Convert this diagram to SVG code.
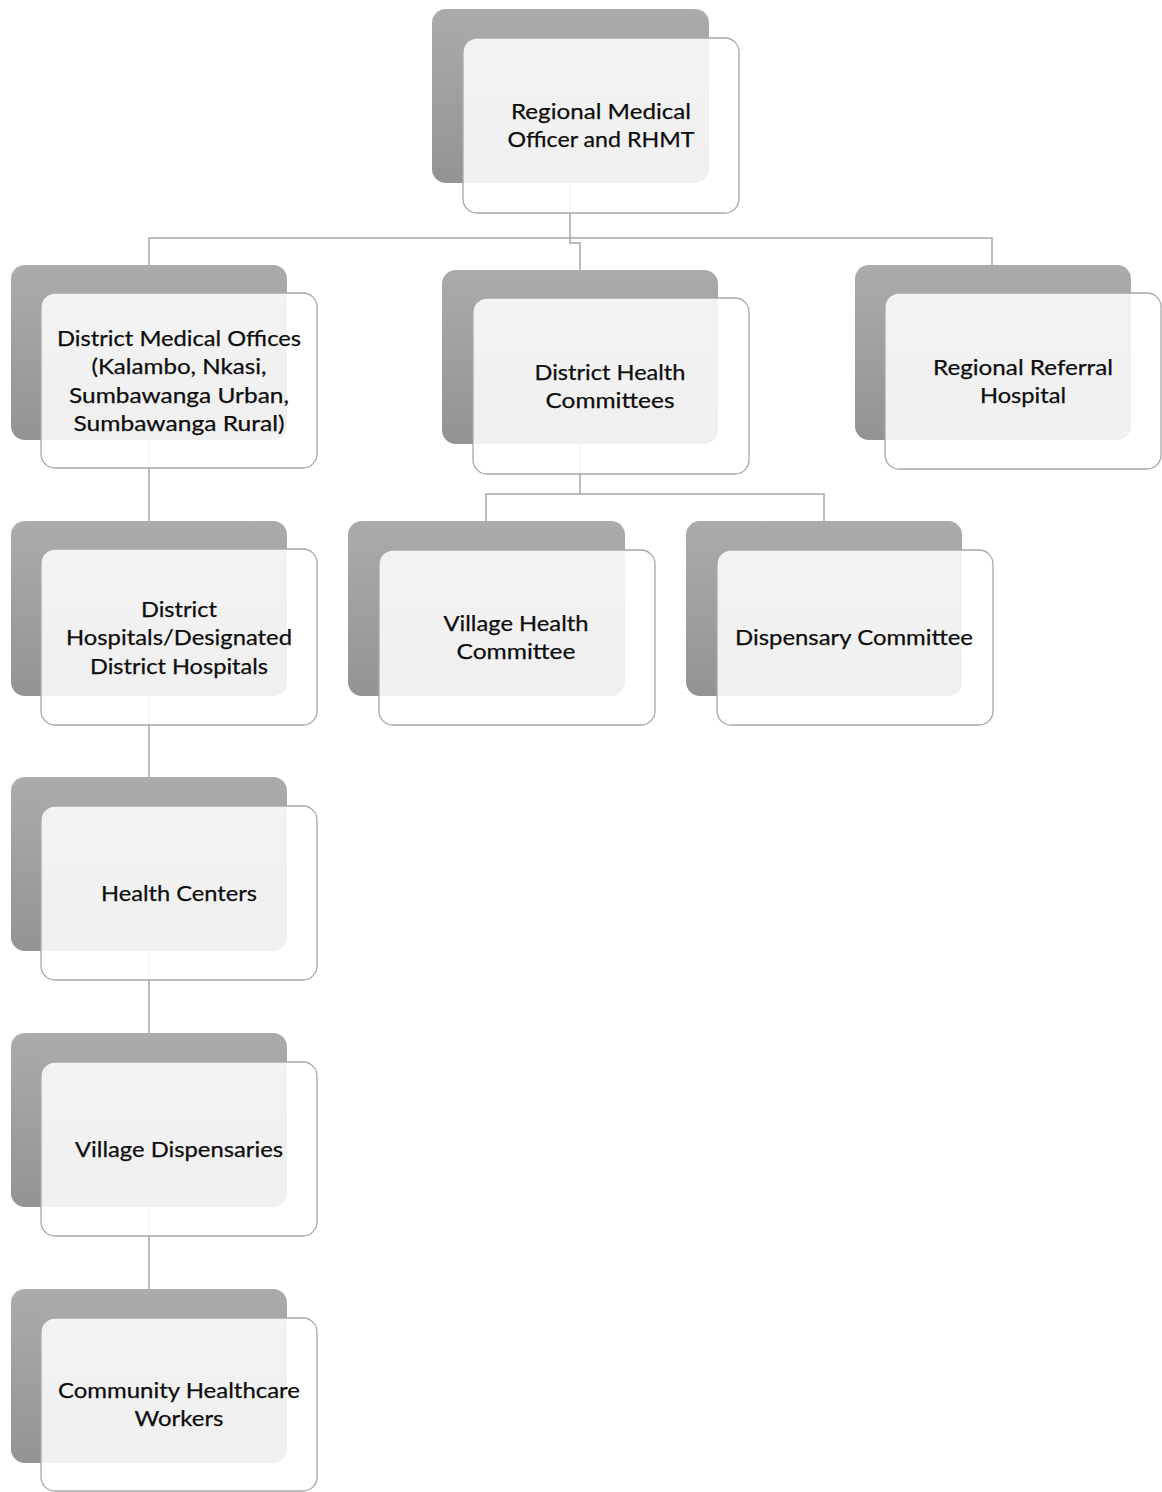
<svg xmlns="http://www.w3.org/2000/svg" width="1162" height="1492" viewBox="0 0 1162 1492">
<defs>
<linearGradient id="bg" x1="0" y1="0" x2="0" y2="1">
<stop offset="0" stop-color="#ababab"/>
<stop offset="1" stop-color="#939393"/>
</linearGradient>
<style>
.back{fill:url(#bg);}
.front{fill:#ffffff;fill-opacity:0.86;stroke:#a8a8a8;stroke-width:1.3;}
.conn{fill:none;stroke:#a6a6a6;stroke-width:1.5;}
text{font-family:Lato,"Open Sans","Liberation Sans",sans-serif;font-size:22px;fill:#0d0d0d;stroke:#0d0d0d;stroke-width:0.25;text-anchor:middle;}
</style>
</defs>
<rect width="1162" height="1492" fill="#ffffff"/>
<g id="connectors">
<path class="conn" d="M570,183 V243 H580 V270"/>
<path class="conn" d="M149,265 V238 H992 V265"/>
<path class="conn" d="M149,440 V521"/>
<path class="conn" d="M149,696 V777"/>
<path class="conn" d="M149,951 V1033"/>
<path class="conn" d="M149,1207 V1289"/>
<path class="conn" d="M580,444 V494"/>
<path class="conn" d="M486,521 V494 H824 V521"/>
</g>
<g id="n-rmo">
<rect class="back" x="432" y="9" width="277" height="174" rx="14"/>
<rect class="front" x="463" y="38" width="276" height="175" rx="14"/>
<text x="601" y="119" textLength="180" lengthAdjust="spacingAndGlyphs">Regional Medical</text>
<text x="601" y="147" textLength="187" lengthAdjust="spacingAndGlyphs">Officer and RHMT</text>
</g>
<g id="n-dmo">
<rect class="back" x="11" y="265" width="276" height="175" rx="14"/>
<rect class="front" x="41" y="293" width="276" height="175" rx="14"/>
<text x="179" y="346" textLength="244" lengthAdjust="spacingAndGlyphs">District Medical Offices</text>
<text x="179" y="374" textLength="175" lengthAdjust="spacingAndGlyphs">(Kalambo, Nkasi,</text>
<text x="179" y="403" textLength="220" lengthAdjust="spacingAndGlyphs">Sumbawanga Urban,</text>
<text x="179" y="431" textLength="211" lengthAdjust="spacingAndGlyphs">Sumbawanga Rural)</text>
</g>
<g id="n-dhc">
<rect class="back" x="442" y="270" width="276" height="174" rx="14"/>
<rect class="front" x="473" y="298" width="276" height="176" rx="14"/>
<text x="610" y="380" textLength="151" lengthAdjust="spacingAndGlyphs">District Health</text>
<text x="610" y="408" textLength="129" lengthAdjust="spacingAndGlyphs">Committees</text>
</g>
<g id="n-rrh">
<rect class="back" x="855" y="265" width="276" height="175" rx="14"/>
<rect class="front" x="885" y="293" width="276" height="176" rx="14"/>
<text x="1023" y="375" textLength="180" lengthAdjust="spacingAndGlyphs">Regional Referral</text>
<text x="1023" y="403" textLength="86" lengthAdjust="spacingAndGlyphs">Hospital</text>
</g>
<g id="n-dh">
<rect class="back" x="11" y="521" width="276" height="175" rx="14"/>
<rect class="front" x="41" y="549" width="276" height="176" rx="14"/>
<text x="179" y="617" textLength="76" lengthAdjust="spacingAndGlyphs">District</text>
<text x="179" y="645" textLength="226" lengthAdjust="spacingAndGlyphs">Hospitals/Designated</text>
<text x="179" y="674" textLength="178" lengthAdjust="spacingAndGlyphs">District Hospitals</text>
</g>
<g id="n-vhc">
<rect class="back" x="348" y="521" width="277" height="175" rx="14"/>
<rect class="front" x="379" y="550" width="276" height="175" rx="14"/>
<text x="516" y="631" textLength="145" lengthAdjust="spacingAndGlyphs">Village Health</text>
<text x="516" y="659" textLength="119" lengthAdjust="spacingAndGlyphs">Committee</text>
</g>
<g id="n-dc">
<rect class="back" x="686" y="521" width="276" height="175" rx="14"/>
<rect class="front" x="717" y="550" width="276" height="175" rx="14"/>
<text x="854" y="645" textLength="238" lengthAdjust="spacingAndGlyphs">Dispensary Committee</text>
</g>
<g id="n-hc">
<rect class="back" x="11" y="777" width="276" height="174" rx="14"/>
<rect class="front" x="41" y="806" width="276" height="174" rx="14"/>
<text x="179" y="901" textLength="156" lengthAdjust="spacingAndGlyphs">Health Centers</text>
</g>
<g id="n-vd">
<rect class="back" x="11" y="1033" width="276" height="174" rx="14"/>
<rect class="front" x="41" y="1062" width="276" height="174" rx="14"/>
<text x="179" y="1157" textLength="208" lengthAdjust="spacingAndGlyphs">Village Dispensaries</text>
</g>
<g id="n-chw">
<rect class="back" x="11" y="1289" width="276" height="174" rx="14"/>
<rect class="front" x="41" y="1318" width="276" height="173" rx="14"/>
<text x="179" y="1398" textLength="242" lengthAdjust="spacingAndGlyphs">Community Healthcare</text>
<text x="179" y="1426" textLength="89" lengthAdjust="spacingAndGlyphs">Workers</text>
</g>
</svg>
